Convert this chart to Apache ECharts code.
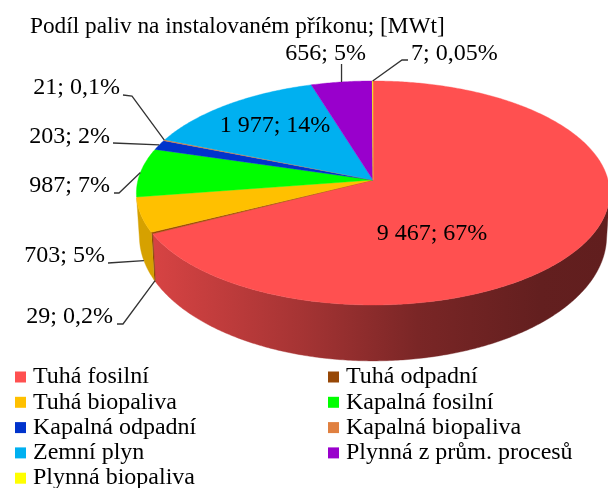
<!DOCTYPE html>
<html><head><meta charset="utf-8">
<style>html,body{margin:0;padding:0;background:#fff}#c{width:608px;height:488px}</style>
<script src="https://cdn.jsdelivr.net/npm/echarts@6/dist/echarts.min.js"></script>
</head><body><div id="c"></div>
<script>
const categories = ['Tuhá fosilní','Tuhá odpadní','Tuhá biopaliva','Kapalná fosilní','Kapalná odpadní','Kapalná biopaliva','Zemní plyn','Plynná z prům. procesů','Plynná biopaliva'];
const values = [9467,29,703,987,203,21,1977,656,7];
const sliceLabels = ['9 467; 67%','29; 0,2%','703; 5%','987; 7%','203; 2%','21; 0,1%','1 977; 14%','656; 5%','7; 0,05%'];
const colors = ['#ff5050','#974706','#ffc000','#00ff00','#0033cc','#e08040','#00b0f0','#9900cc','#ffff00'];

// Layout (not data): perspective rings and label placement
const TOP = {cx:373, cy:180, rx:235, ry:110.5, k:0.116};
const BOT = {cx:373, cy:222, rx:232, ry:122.8, k:0.116};
const FONT = '"Liberation Serif","Times New Roman",serif';
const LABEL_FS = 24;
const labelPlace = [
  {x:432,y:234,align:'center'},
  {x:113,y:317,align:'right'},
  {x:105,y:256,align:'right'},
  {x:110,y:186,align:'right'},
  {x:110,y:137,align:'right'},
  {x:120,y:88,align:'right'},
  {x:275,y:126,align:'center'},
  {x:366,y:54,align:'right'},
  {x:411,y:54,align:'left'}
];
// Leader geometry: label-side points, then a rim target (depth = 0 top rim, 1 bottom rim)
const leaders = [
  null,
  {pts:[[117,324],[123,324]],depth:1},
  {pts:[[108,263]],depth:1},
  {pts:[[114,193],[119,193]],depth:0},
  {pts:[[113,143]],depth:0},
  {pts:[[123,95],[132,96]],depth:0},
  null,
  {pts:[[343,64]],depth:0,sameX:true},
  {pts:[[408,60],[402,60]],depth:0}
];

const total = values.reduce((a,b)=>a+b,0);
const rim = (ring,t)=>{const X=Math.sin(t),Y=Math.cos(t),w=1+ring.k*Y;return [ring.cx+ring.rx*X/w, ring.cy-ring.ry*Y/w];};
const mix = (a,b,f)=>a+(b-a)*f;
const arcPts = (ring,a,b)=>{const n=Math.max(2,Math.ceil(Math.abs(b-a)/0.01));const r=[];for(let i=0;i<=n;i++)r.push(rim(ring,mix(a,b,i/n)));return r;};
const shade=(hex,f)=>{const n=parseInt(hex.slice(1),16);return 'rgb('+[(n>>16)&255,(n>>8)&255,n&255].map(v=>Math.round(v*f)).join(',')+')';};
const startAngle=i=>values.slice(0,i).reduce((a,b)=>a+b,0)/total*Math.PI*2;
// the wall is only seen between the two silhouette generators of the cylinder
const SIL = Math.acos(-0.16);

function renderSlice(i){
  return function(params,api){
    const a=startAngle(i), b=a+api.value(0)/total*Math.PI*2, mid=(a+b)/2;
    const children=[];
    const topArc=arcPts(TOP,a,b);
    const sa=Math.max(a,SIL), sb=Math.min(b,2*Math.PI-SIL);
    if(sa<sb){
      const sideColor={type:'linear',global:true,x:155,y:0,x2:608,y2:0,colorStops:[
        {offset:0,color:shade(colors[i],.84)},{offset:.32,color:shade(colors[i],.65)},
        {offset:.58,color:shade(colors[i],.48)},{offset:.85,color:shade(colors[i],.39)},{offset:1,color:shade(colors[i],.38)}]};
      children.push({type:'polygon',z2:1,shape:{points:arcPts(TOP,sa,sb).concat(arcPts(BOT,sb,sa))},style:{fill:sideColor,stroke:sideColor,lineWidth:.4}});
    }
    children.push({type:'polygon',z2:5,shape:{points:[[TOP.cx,TOP.cy]].concat(topArc)},style:{fill:colors[i],stroke:colors[i],lineWidth:.4}});
    const L=leaders[i];
    if(L){
      const p=rim(TOP,mid),q=rim(BOT,mid);
      const end=[mix(p[0],q[0],L.depth),mix(p[1],q[1],L.depth)];
      const pts=L.sameX?[[end[0],L.pts[0][1]],end]:L.pts.concat([end]);
      children.push({type:'polyline',z2:8,shape:{points:pts},style:{fill:null,stroke:'#333',lineWidth:1.3}});
    }
    const P=labelPlace[i];
    children.push({type:'text',z2:10,style:{text:sliceLabels[i],x:P.x,y:P.y,fill:'#000',align:P.align,verticalAlign:'middle',font:LABEL_FS+'px '+FONT}});
    return {type:'group',children};
  };
}

const legendCommon={orient:'vertical',icon:'rect',itemWidth:11,itemHeight:11,itemGap:1.3,selectedMode:false,padding:0,height:140,
  textStyle:{fontFamily:FONT,fontSize:24,color:'#000',padding:[0,0,0,2]}};
const legendItem=i=>({name:categories[i],itemStyle:{color:colors[i]}});

const chart=echarts.init(document.getElementById('c'),null,{renderer:'canvas'});
chart.setOption({
  animation:false,
  backgroundColor:'#fff',
  title:{text:'Podíl paliv na instalovaném příkonu; [MWt]',left:30,top:15,padding:0,textStyle:{fontFamily:FONT,fontSize:23.3,fontWeight:'normal',color:'#000'}},
  legend:[
    Object.assign({},legendCommon,{left:15,top:365,data:[0,2,4,6,8].map(legendItem)}),
    Object.assign({},legendCommon,{left:328,top:365,data:[1,3,5,7].map(legendItem)})
  ],
  series:categories.map((name,i)=>({type:'custom',name,coordinateSystem:'none',itemStyle:{color:colors[i]},data:[[values[i]]],renderItem:renderSlice(i),silent:true}))
});
</script></body></html>
